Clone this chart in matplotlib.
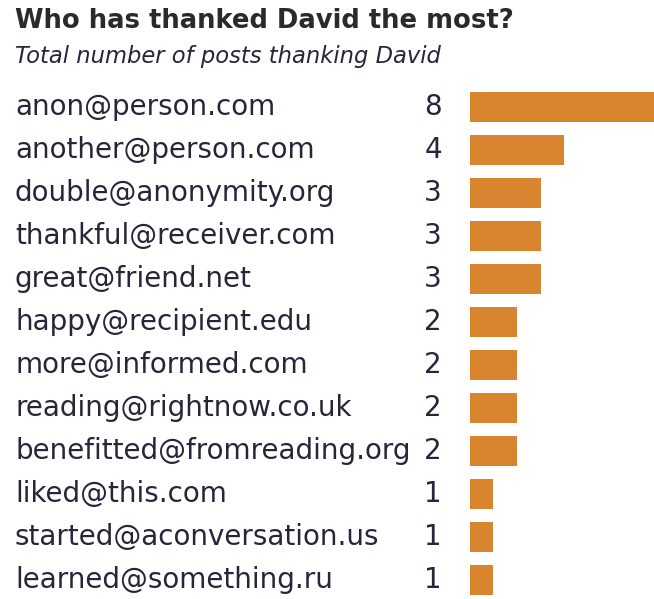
import matplotlib.pyplot as plt
import matplotlib.transforms as mtransforms

senders = [
    "anon@person.com",
    "another@person.com",
    "double@anonymity.org",
    "thankful@receiver.com",
    "great@friend.net",
    "happy@recipient.edu",
    "more@informed.com",
    "reading@rightnow.co.uk",
    "benefitted@fromreading.org",
    "liked@this.com",
    "started@aconversation.us",
    "learned@something.ru",
]
thanks = [8, 4, 3, 3, 3, 2, 2, 2, 2, 1, 1, 1]

TEXT = "#26263a"
BAR = "#d9852f"

W, H = 654, 599
fig = plt.figure(figsize=(W / 100, H / 100), dpi=100)

# bar area: left edge at x=470px, rows 43px apart, first row centred at y=107px
ax = fig.add_axes([470 / W, 0, 1 - 470 / W, 1])
ax.set_xlim(0, (W - 470) / 23.5)
ax.set_ylim((H - 107) / 43, -107 / 43)
ax.axis("off")

rows = list(range(len(senders)))
ax.barh(rows, thanks, height=0.72, color=BAR, edgecolor="none")

trans = mtransforms.blended_transform_factory(fig.transFigure, ax.transData)
for i, (name, n) in enumerate(zip(senders, thanks)):
    ax.text(15 / W, i, name, transform=trans, ha="left", va="center",
            fontsize=20, color=TEXT)
    ax.text(442 / W, i, str(n), transform=trans, ha="right", va="center",
            fontsize=20, color=TEXT)

fig.text(15 / W, 1 - 21 / H, "Who has thanked David the most?",
         fontsize=18.6, fontweight="bold", color="#2a2a2e", va="center")
fig.text(15 / W, 1 - 57 / H, "Total number of posts thanking David",
         fontsize=16.3, style="italic", color=TEXT, va="center")

fig.savefig("out.png", dpi=100, facecolor="white")
